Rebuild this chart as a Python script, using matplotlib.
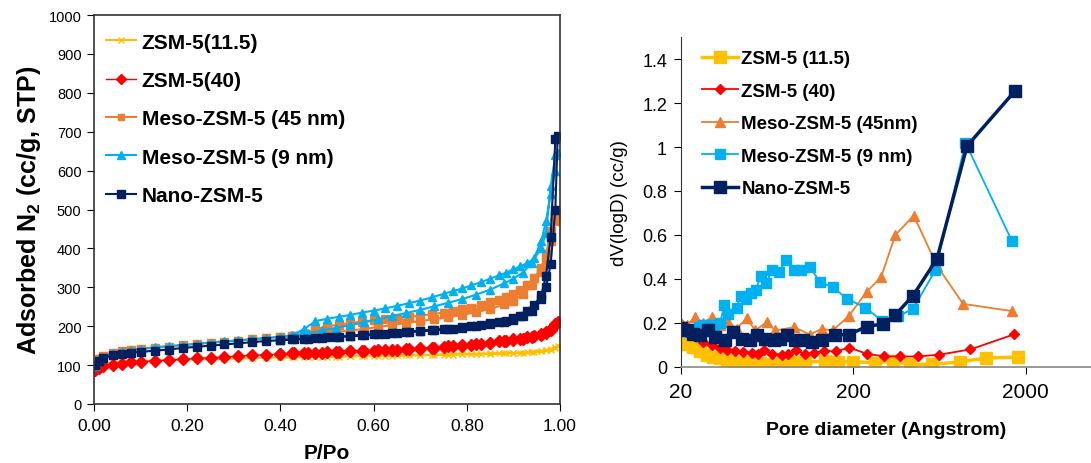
import matplotlib
matplotlib.use("Agg")
import matplotlib.pyplot as plt
from matplotlib.ticker import FixedLocator, FuncFormatter

plt.rcParams['font.family'] = ['Liberation Sans', 'DejaVu Sans']
plt.rcParams['mathtext.fontset'] = 'custom'
plt.rcParams['mathtext.rm'] = 'Liberation Sans'
plt.rcParams['mathtext.bf'] = 'Liberation Sans:bold'

# ---------------- N2 isotherms (left) ----------------
p_ads = [0.003, 0.01, 0.02, 0.04, 0.06, 0.08, 0.10, 0.13, 0.16, 0.19, 0.22, 0.25, 0.28, 0.31,
         0.34, 0.37, 0.40, 0.43, 0.46, 0.49, 0.52, 0.55, 0.58, 0.61, 0.64, 0.67, 0.70, 0.73,
         0.76, 0.79, 0.82, 0.85, 0.88, 0.90, 0.92, 0.94, 0.96, 0.97, 0.98, 0.99, 0.995]
p_des = [0.99, 0.98, 0.97, 0.96, 0.945, 0.93, 0.915, 0.90, 0.885, 0.87, 0.85, 0.83, 0.81,
         0.79, 0.77, 0.75, 0.725, 0.70, 0.675, 0.65, 0.625, 0.60, 0.575, 0.55, 0.525, 0.50,
         0.475, 0.45, 0.425, 0.40]

zsm115_ads = [92, 100, 104, 107, 109, 110, 111, 112, 113, 114, 115, 116, 116, 117, 118, 119,
              120, 120, 121, 121, 122, 123, 123, 124, 124, 125, 125, 126, 127, 128, 128, 129,
              130, 131, 132, 133, 136, 138, 140, 145, 150]
zsm115_des = [146, 141, 138, 136, 134, 133, 132, 131, 131, 130, 130, 129, 128, 128, 127, 127,
              126, 126, 125, 125, 124, 124, 123, 123, 122, 122, 121, 121, 120, 120]

zsm40_ads = [88, 93, 97, 101, 104, 107, 109, 111, 113, 115, 117, 119, 121, 123, 125, 127, 128,
             130, 131, 132, 134, 135, 137, 138, 140, 141, 143, 145, 148, 151, 154, 157, 161,
             164, 168, 172, 178, 183, 190, 203, 212]
zsm40_des = [205, 192, 185, 180, 175, 171, 168, 166, 163, 161, 158, 155, 152, 150, 148, 146,
             144, 142, 141, 139, 138, 137, 136, 135, 134, 133, 132, 131, 130, 129]

meso45_ads = [100, 115, 124, 131, 135, 138, 141, 144, 147, 151, 154, 157, 160, 163, 166, 169,
              172, 175, 178, 181, 185, 189, 193, 198, 203, 208, 213, 218, 223, 229, 236, 244,
              256, 266, 282, 305, 340, 370, 420, 470, 490]
meso45_des = [480, 445, 385, 350, 325, 305, 292, 283, 275, 268, 261, 254, 248, 243, 239, 235,
              231, 227, 224, 221, 218, 215, 212, 208, 204, 199, 192, 180, 175, 172]

meso9_ads = [98, 112, 122, 130, 135, 139, 142, 146, 149, 152, 155, 158, 161, 164, 167, 170,
             173, 176, 182, 189, 196, 203, 210, 218, 226, 234, 242, 251, 260, 270, 281, 294,
             310, 322, 338, 362, 420, 470, 540, 600, 645]
meso9_des = [640, 560, 440, 400, 375, 362, 354, 346, 338, 331, 322, 313, 305, 297, 290, 283,
             274, 266, 259, 252, 246, 240, 235, 229, 224, 219, 213, 192, 177, 173]

nano_ads = [100, 110, 118, 125, 129, 132, 134, 137, 140, 144, 147, 150, 153, 156, 159, 162,
            164, 166, 168, 170, 172, 175, 177, 180, 182, 185, 188, 190, 193, 196, 200, 205,
            211, 216, 225, 240, 270, 300, 360, 500, 690]
nano_des = [680, 430, 330, 280, 255, 238, 227, 220, 214, 210, 207, 204, 200, 197, 194, 192,
            190, 188, 185, 183, 181, 179, 177, 175, 173, 172, 170, 168, 166, 165]

# ---------------- pore size distribution (right) ----------------
d_zsm115 = [20, 21.6, 23.6, 25.8, 28.2, 30.8, 33.7, 36.9, 41.2, 46.1, 51.5, 57.6, 65.8, 78.7,
            90.8, 105, 137, 164, 200, 269, 339, 425, 573, 830, 1182, 1804]
v_zsm115 = [0.116, 0.106, 0.091, 0.071, 0.056, 0.045, 0.041, 0.030, 0.023, 0.023, 0.023,
            0.018, 0.012, 0.023, 0.023, 0.023, 0.026, 0.023, 0.023, 0.020, 0.026, 0.012,
            0.012, 0.023, 0.041, 0.045]

d_zsm40 = [20, 21.6, 24.1, 27, 30.1, 33.7, 37.2, 41.2, 46.1, 51.5, 56.3, 60.8, 67.3, 77, 84.1,
           92.8, 105, 117.6, 136, 159, 190, 240, 303, 375, 475, 632, 958, 1710]
v_zsm40 = [0.196, 0.17, 0.144, 0.113, 0.098, 0.086, 0.076, 0.071, 0.068, 0.065, 0.060, 0.076,
           0.060, 0.056, 0.060, 0.076, 0.060, 0.065, 0.073, 0.071, 0.088, 0.060, 0.048, 0.048,
           0.048, 0.056, 0.080, 0.148]

d_meso45 = [20, 21.6, 24.1, 27, 30.1, 33.7, 37.7, 42.1, 48.2, 53.9, 63, 70.4, 90.8, 112, 131,
            152, 188, 240, 290, 351, 449, 612, 868, 1672]
v_meso45 = [0.200, 0.190, 0.227, 0.200, 0.227, 0.190, 0.204, 0.174, 0.222, 0.166, 0.204, 0.166,
            0.181, 0.147, 0.174, 0.166, 0.231, 0.343, 0.408, 0.600, 0.688, 0.461, 0.287, 0.254]

d_meso9 = [20, 21, 22.5, 24, 25.5, 27, 29, 31, 33.7, 35.7, 37.7, 42.1, 44.7, 47.7, 50.8, 54.4,
           58.1, 62.4, 67.3, 74.6, 80.9, 90, 99.7, 112, 128.6, 152, 184, 235, 294, 364, 445,
           600, 896, 1672]
v_meso9 = [0.180, 0.170, 0.160, 0.170, 0.180, 0.190, 0.190, 0.190, 0.200, 0.280, 0.240, 0.270,
           0.325, 0.310, 0.335, 0.350, 0.415, 0.380, 0.440, 0.430, 0.485, 0.440, 0.440, 0.455,
           0.385, 0.363, 0.310, 0.270, 0.210, 0.230, 0.265, 0.440, 1.020, 0.571]

d_nano = [20, 21.6, 23.6, 25.8, 28.8, 31.5, 36.1, 40.3, 45.1, 50.4, 55.1, 61.6, 68.9, 75.3,
          82.3, 92, 102.8, 115, 131, 157, 188, 240, 297, 351, 445, 612, 916, 1734]
v_nano = [0.177, 0.166, 0.151, 0.144, 0.166, 0.136, 0.121, 0.159, 0.128, 0.121, 0.147, 0.128,
          0.121, 0.128, 0.144, 0.121, 0.121, 0.113, 0.121, 0.147, 0.147, 0.184, 0.196, 0.237,
          0.325, 0.491, 1.005, 1.254]

c_yellow = '#FFC000'
c_red = '#FF0000'
c_orange = '#ED7D31'
c_cyan = '#00B0F0'
c_navy = '#002060'

fig = plt.figure(figsize=(10.91, 4.64), dpi=100)

# ---- left panel ----
ax1 = fig.add_axes([94 / 1091, 59 / 464, 466 / 1091, 389 / 464])
ax1.plot(p_ads + p_des, zsm115_ads + zsm115_des, color=c_yellow, lw=1.5, marker='x', ms=5,
         mew=1, label='ZSM-5(11.5)')
ax1.plot(p_ads + p_des, zsm40_ads + zsm40_des, color=c_red, lw=1, marker='D', ms=6,
         label='ZSM-5(40)')
ax1.plot(p_ads + p_des, meso45_ads + meso45_des, color=c_orange, lw=1.5, marker='s', ms=5.5,
         label='Meso-ZSM-5 (45 nm)')
ax1.plot(p_ads + p_des, meso9_ads + meso9_des, color=c_cyan, lw=1.5, marker='^', ms=6,
         label='Meso-ZSM-5 (9 nm)')
ax1.plot(p_ads + p_des, nano_ads + nano_des, color=c_navy, lw=1.5, marker='s', ms=6,
         label='Nano-ZSM-5')

ax1.set_xlim(0, 1)
ax1.set_ylim(0, 1000)
ax1.set_xticks([0, 0.2, 0.4, 0.6, 0.8, 1.0])
ax1.set_yticks(range(0, 1001, 100))
ax1.xaxis.set_major_formatter(FuncFormatter(lambda v, _: f"{v:.2f}"))
ax1.tick_params(axis='x', labelsize=12.5, length=5, direction='out', pad=5)
ax1.tick_params(axis='y', labelsize=10.5, length=5, direction='out', pad=4)
for s in ax1.spines.values():
    s.set_linewidth(1.2)
    s.set_color('#333333')
ax1.set_xlabel('P/Po', fontsize=15, fontweight='bold', labelpad=7)
ax1.set_ylabel(r'Adsorbed N$_\mathbf{2}$ (cc/g, STP)', fontsize=18, fontweight='bold',
               labelpad=4)
ax1.legend(loc='upper left', bbox_to_anchor=(0.026, 0.955), frameon=False, borderaxespad=0,
           borderpad=0, prop={'weight': 'bold', 'size': 15}, handlelength=1.45,
           handletextpad=0.25, labelspacing=0.93, markerscale=0.9)

# ---- right panel ----
ax2 = fig.add_axes([681 / 1091, 96 / 464, 410 / 1091, 330 / 464])
ax2.plot(d_zsm115, v_zsm115, color=c_yellow, lw=2.5, marker='s', ms=8, label='ZSM-5 (11.5)')
ax2.plot(d_zsm40, v_zsm40, color=c_red, lw=1.3, marker='D', ms=5, label='ZSM-5 (40)')
ax2.plot(d_meso45, v_meso45, color=c_orange, lw=1.3, marker='^', ms=7,
         label='Meso-ZSM-5 (45nm)')
ax2.plot(d_meso9, v_meso9, color=c_cyan, lw=1.3, marker='s', ms=6.5,
         label='Meso-ZSM-5 (9 nm)')
ax2.plot(d_nano, v_nano, color=c_navy, lw=2.5, marker='s', ms=8, label='Nano-ZSM-5')

ax2.set_xscale('log')
ax2.set_xlim(20, 4800)
ax2.set_ylim(0, 1.5)
ax2.xaxis.set_major_locator(FixedLocator([20, 200, 2000]))
ax2.xaxis.set_minor_locator(FixedLocator([]))
ax2.xaxis.set_major_formatter(FuncFormatter(lambda v, _: f"{v:g}"))
ax2.set_yticks([0, 0.2, 0.4, 0.6, 0.8, 1.0, 1.2, 1.4])
ax2.yaxis.set_major_formatter(FuncFormatter(lambda v, _: f"{v:g}"))
ax2.tick_params(axis='x', labelsize=15, length=5, direction='out', pad=6)
ax2.tick_params(axis='y', labelsize=13, length=5, direction='out', pad=5)
ax2.spines['top'].set_visible(False)
ax2.spines['right'].set_visible(False)
ax2.spines['left'].set_color('#333333')
ax2.spines['bottom'].set_color('#888888')
ax2.spines['bottom'].set_linewidth(1.2)
ax2.set_xlabel('Pore diameter (Angstrom)', fontsize=14, fontweight='bold', labelpad=14)
ax2.set_ylabel('dV(logD) (cc/g)', fontsize=13.5, labelpad=10)
ax2.legend(loc='upper left', bbox_to_anchor=(0.051, 0.96), frameon=False, borderaxespad=0,
           borderpad=0, prop={'weight': 'bold', 'size': 13.5}, handlelength=1.9,
           handletextpad=0.2, labelspacing=0.82)

fig.savefig('out.png', dpi=100)
